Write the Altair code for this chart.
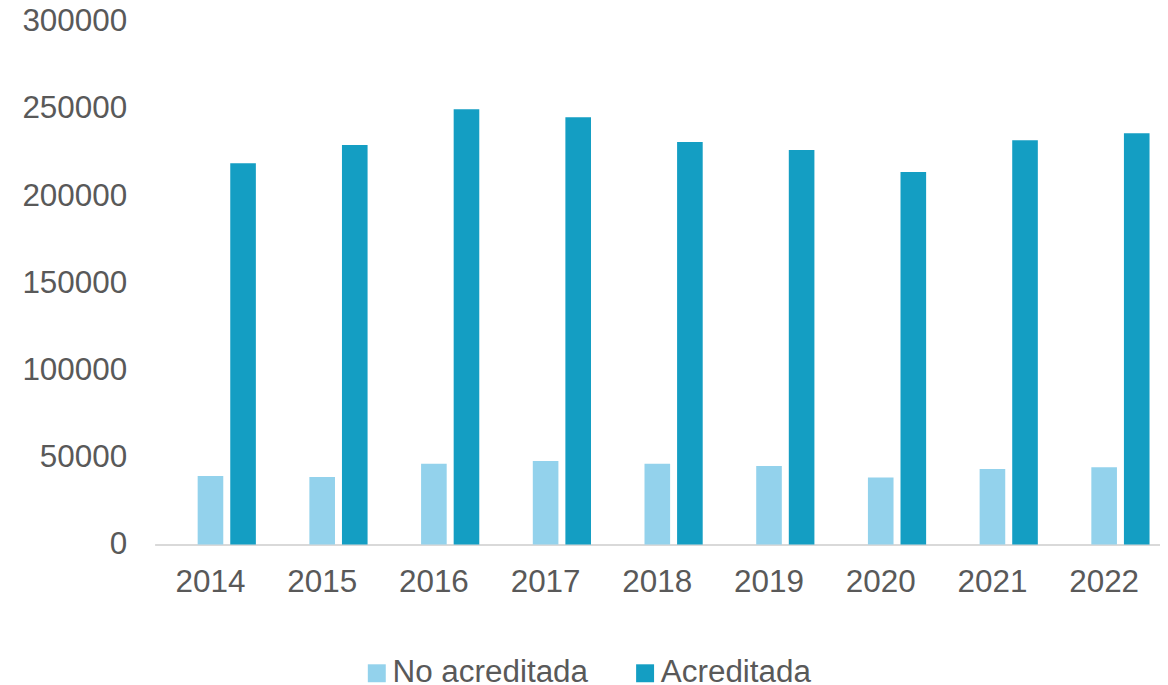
import altair as alt
import pandas as pd

years = ["2014", "2015", "2016", "2017", "2018", "2019", "2020", "2021", "2022"]
no_acreditada = [39300, 38700, 46400, 47900, 46400, 45000, 38400, 43300, 44400]
acreditada = [218800, 229300, 249900, 245300, 231000, 226400, 213800, 232000, 236000]
series_names = ["No acreditada", "Acreditada"]
series_colors = ["#93D2EC", "#149EC3"]
y_ticks = [0, 50000, 100000, 150000, 200000, 250000, 300000]

rows = []
for i, yr in enumerate(years):
    rows.append({"year": yr, "serie": series_names[0], "value": no_acreditada[i]})
    rows.append({"year": yr, "serie": series_names[1], "value": acreditada[i]})
df = pd.DataFrame(rows)

FONT = "Liberation Sans"
TXT = "#595959"
FS = 31.5

chart = alt.Chart(df).mark_bar().encode(
    x=alt.X("year:N", sort=years,
            scale=alt.Scale(paddingInner=0, paddingOuter=0),
            axis=alt.Axis(title=None, labelAngle=0, ticks=False, domainColor="#D9D9D9",
                          domainWidth=2, labelFont=FONT, labelFontSize=FS,
                          labelColor=TXT, labelPadding=22, grid=False)),
    xOffset=alt.XOffset("serie:N",
                        scale=alt.Scale(domain=["_hidden", "No acreditada", "Acreditada"],
                                        paddingInner=0.214, paddingOuter=0.321)),
    y=alt.Y("value:Q",
            scale=alt.Scale(domain=[0, 300000], nice=False),
            axis=alt.Axis(title=None, values=y_ticks, format="d", ticks=False, domain=False,
                          grid=False, labelFont=FONT, labelFontSize=FS, labelColor=TXT,
                          labelPadding=28)),
    color=alt.Color("serie:N",
                    scale=alt.Scale(domain=series_names, range=series_colors),
                    legend=alt.Legend(title=None, orient="none", direction="horizontal",
                                      legendX=207, legendY=637,
                                      symbolType="square", symbolSize=324,
                                      symbolStrokeWidth=0, labelFont=FONT,
                                      labelFontSize=FS, labelColor=TXT, labelLimit=0,
                                      labelOffset=0, columnPadding=41)),
).properties(
    width=1008,
    height=524,
    autosize=alt.AutoSizeParams(type="none"),
    padding={"left": 147, "top": 13, "right": 0, "bottom": 140},
).configure(background="white").configure_view(stroke=None)

chart.save("out.html", embed_options={"renderer": "svg", "actions": False})
